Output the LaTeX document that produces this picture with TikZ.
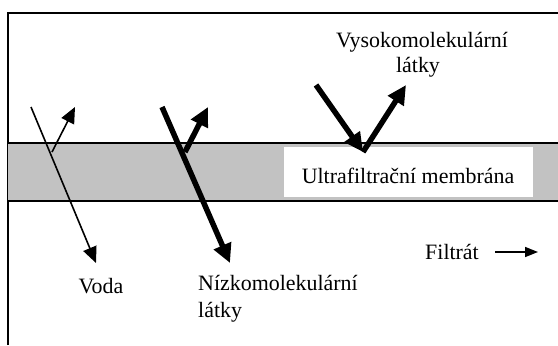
\documentclass[tikz,border=0pt]{standalone}
\usepackage{fontspec}
\setmainfont{Liberation Serif}
\usetikzlibrary{arrows.meta}
\tikzset{
  lbl/.style={font=\fontsize{22}{26}\selectfont, inner sep=0pt},
  thinarrow/.style={line width=1.6bp, -{Triangle[length=16bp,width=14bp]}},
  thickarrow/.style={line width=5.5bp, -{Triangle[length=19bp,width=18bp]}},
  frameline/.style={line width=1.5bp},
}
\begin{document}
\begin{tikzpicture}[x=1bp,y=-1bp]
\useasboundingbox (0,0) rectangle (558,345);
% frame
\draw[frameline] (8,345) -- (8,13) -- (560,13);
% membrane
\fill[black!24] (8,143) rectangle (560,201);
\draw[frameline] (8,143) -- (560,143) (8,201) -- (560,201);
\node[fill=white, minimum width=249bp, minimum height=50bp, inner sep=0pt, anchor=north west] (mem) at (284,147) {};
\node[lbl, anchor=base] (memtxt) at (408,183) {Ultrafiltrační membrána};
% water
\coordinate (w0) at (31,107); \coordinate (w1) at (96,263);
\coordinate (w2) at (52,152); \coordinate (w3) at (75,107);
\draw[thinarrow] (w0) -- (w1);
\draw[thinarrow] (w2) -- (w3);
% low molecular
\coordinate (n0) at (162,107); \coordinate (n1) at (230,263);
\coordinate (n2) at (185,152); \coordinate (n3) at (208,107);
\draw[thickarrow] (n0) -- (n1);
\draw[thickarrow] (n2) -- (n3);
% high molecular
\coordinate (v0) at (316,85); \coordinate (v1) at (363,152);
\coordinate (v3) at (406,85);
\draw[thickarrow] (v0) -- (v1);
\draw[thickarrow] (v1) -- (v3);
% labels
\node[lbl, anchor=base] (vys) at (422,47) {Vysokomolekulární};
\node[lbl, anchor=base] (vys2) at (418,72) {látky};
\node[lbl, anchor=base] (voda) at (101,293) {Voda};
\node[lbl, anchor=base west] (niz) at (198,290) {Nízkomolekulární};
\node[lbl, anchor=base west] (niz2) at (198,317) {látky};
\node[lbl, anchor=base east] (filt) at (479,259) {Filtrát};
\coordinate (f0) at (495,252); \coordinate (f1) at (538,252);
\draw[line width=1.6bp, -{Triangle[length=13bp,width=10bp]}] (f0) -- (f1);
\end{tikzpicture}
\end{document}
